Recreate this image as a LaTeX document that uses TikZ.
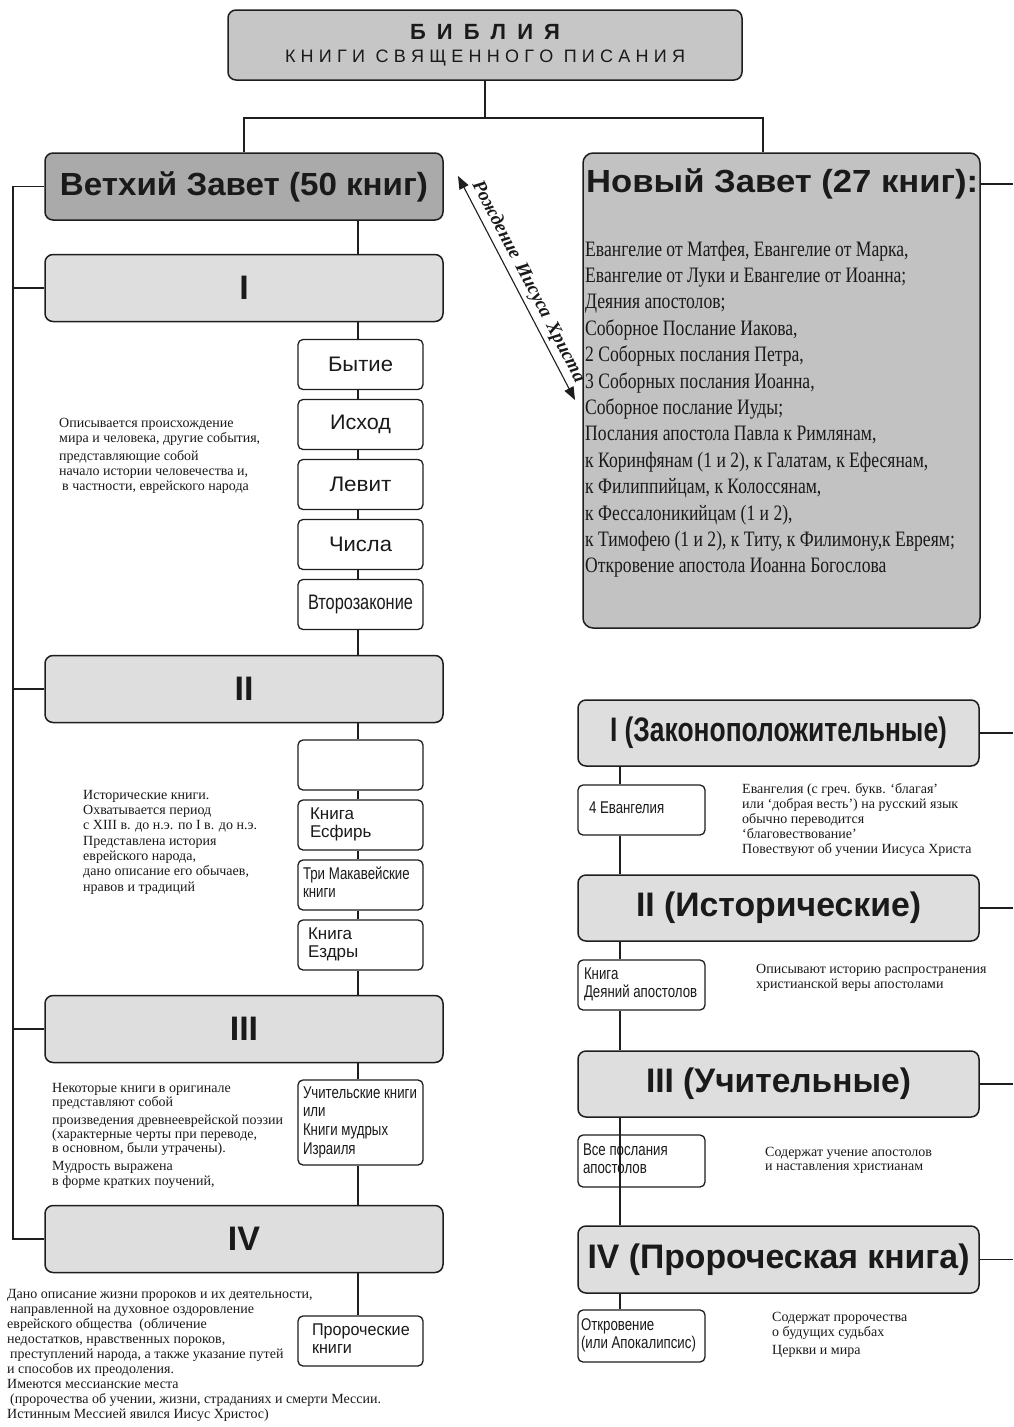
\documentclass[tikz,border=0pt]{standalone}
\usepackage{graphicx}
\usepackage{fontspec}
\setmainfont{Liberation Sans}
\newfontfamily\srf{Liberation Serif}
\usetikzlibrary{arrows.meta}
\newcommand\fitw[2]{\resizebox{#1}{\height}{#2}}
\newcommand\cond[2][0.78]{\scalebox{#1}[1]{\begin{tabular}[t]{@{}l@{}}#2\end{tabular}}}
\newcommand\lft[2]{\makebox[#1][l]{#2}}
\definecolor{lc}{HTML}{1E1E1E}
\definecolor{txt}{HTML}{1A1A1A}
\definecolor{gTop}{HTML}{C6C6C6}
\definecolor{gVZ}{HTML}{AAAAAA}
\definecolor{gL}{HTML}{DEDEDE}
\definecolor{gNZ}{HTML}{C2C2C2}
\tikzset{
 ln/.style={draw=lc, line width=1.3pt},
 bigbox/.style={draw=lc, line width=1.5pt, rounded corners=8pt, fill=gL, minimum width=398pt, minimum height=67pt, inner sep=0pt, text=txt, font=\bfseries\fontsize{34}{38}\selectfont},
 secbox/.style={bigbox, minimum width=401pt, minimum height=66pt},
 book/.style={draw=lc, line width=1.3pt, rounded corners=5pt, fill=white, minimum width=125pt, minimum height=50pt, inner sep=0pt, text=txt, font=\fontsize{17}{18.5}\selectfont},
 rbook/.style={book, minimum width=127pt},
 desc/.style={anchor=base west, inner sep=0pt, align=left, text=txt, font=\srf\fontsize{14}{15}\selectfont},
}
\begin{document}
\begin{tikzpicture}[x=1pt,y=-1pt]
\useasboundingbox (0,0) rectangle (1013,1427);
\fill[white] (0,0) rectangle (1013,1427);

% ---------- top ----------
\node[bigbox, fill=gTop, minimum width=514pt, minimum height=70pt, align=center, font=\fontsize{18}{26}\selectfont] (bib) at (485,45)
 {{\bfseries\fontsize{22}{26}\selectfont\makebox[150pt][s]{Б\hfil И\hfil Б\hfil Л\hfil И\hfil Я}}\\[-3pt]
  \makebox[400pt][s]{К\hfil Н\hfil И\hfil Г\hfil И\hfil\hfil С\hfil В\hfil Я\hfil Щ\hfil Е\hfil Н\hfil Н\hfil О\hfil Г\hfil О\hfil\hfil П\hfil И\hfil С\hfil А\hfil Н\hfil И\hfil Я}};

\node[bigbox, fill=gVZ, font=\bfseries\fontsize{32}{36}\selectfont] (vz) at (244,186.5) {\fitw{368pt}{Ветхий Завет (50 книг)}};

\node[draw=lc, line width=1.5pt, rounded corners=10pt, fill=gNZ, minimum width=397pt, minimum height=475pt, inner sep=0pt] (nz) at (781.5,390.5) {};
\node[anchor=west, inner sep=0pt, text=txt, font=\bfseries\fontsize{32}{36}\selectfont] (nzt) at (586,184) {\fitw{392pt}{Новый Завет (27 книг):}};
\node[anchor=base west, inner sep=0pt, text=txt, font=\srf\fontsize{22}{26.4}\selectfont] (nzl) at (585,256)
 {\cond[0.8]{Евангелие от Матфея, Евангелие от Марка,\\
  Евангелие от Луки и Евангелие от Иоанна;\\
  Деяния апостолов;\\
  Соборное Послание Иакова,\\
  2 Соборных послания Петра,\\
  3 Соборных послания Иоанна,\\
  Соборное послание Иуды;\\
  Послания апостола Павла к Римлянам,\\
  к Коринфянам (1 и 2), к Галатам, к Ефесянам,\\
  к Филиппийцам, к Колоссянам,\\
  к Фессалоникийцам (1 и 2),\\
  к Тимофею (1 и 2), к Титу, к Филимону,к Евреям;\\
  Откровение апостола Иоанна Богослова}};

\coordinate (jt) at (485,118);
\coordinate (nzx) at (763,0);
\coordinate (lx) at (13,0);
\coordinate (vx) at (358,0);
\coordinate (rx) at (620,0);
\coordinate (edge) at (1013,0);
\draw[ln] (bib.south) -- (jt);
\draw[ln] (vz.north) |- (jt);
\draw[ln] (jt) -| (nz.north -| nzx);
\draw[ln] (nz.east |- nzt) -- (edge |- nzt);

% ---------- Old Testament ----------
\node[bigbox] (o1) at (244,288) {I};
\node[bigbox] (o2) at (244,689) {II};
\node[bigbox] (o3) at (244,1029) {III};
\node[bigbox] (o4) at (244,1239) {IV};

\node[book, font=\fontsize{21}{24}\selectfont] (b1) at (360.5,364.5) {\fitw{65pt}{Бытие}};
\node[book, font=\fontsize{21}{24}\selectfont] (b2) at (360.5,424.5) {\fitw{61pt}{Исход}};
\node[book, font=\fontsize{21}{24}\selectfont] (b3) at (360.5,484.5) {\fitw{62pt}{Левит}};
\node[book, font=\fontsize{21}{24}\selectfont] (b4) at (360.5,544.5) {\fitw{63pt}{Числа}};
\node[book, font=\fontsize{21}{24}\selectfont] (b5) at (360.5,604.5) {\fitw{105pt}{Второзаконие}};

\node[book] (c1) at (360.5,765) {};
\node[book] (c2) at (360.5,825) {\lft{101pt}{\cond[1]{Книга\\Есфирь}}};
\node[book] (c3) at (360.5,885) {\lft{115pt}{\cond{Три Макавейские\\книги}}};
\node[book] (c4) at (360.5,945) {\lft{105pt}{\cond[1]{Книга\\Ездры}}};
\node[book, minimum height=85pt, font=\fontsize{17}{18.8}\selectfont] (d1) at (360.5,1122.5) {\lft{115pt}{\cond{Учительские книги\\или\\Книги мудрых\\Израиля}}};
\node[book] (e1) at (360.5,1341) {\lft{97pt}{\cond[0.95]{Пророческие\\книги}}};

\foreach \a/\b in {vz/o1,o1/b1,b1/b2,b2/b3,b3/b4,b4/b5,b5/o2,o2/c1,c1/c2,c2/c3,c3/c4,c4/o3,o3/d1,d1/o4,o4/e1}
  \draw[ln] (\a.south -| vx) -- (\b.north -| vx);

\draw[ln] (vz.west) -- (vz.west -| lx) -- (o4.west -| lx) -- (o4.west);
\foreach \n in {o1,o2,o3} \draw[ln] (\n.west -| lx) -- (\n.west);

\node[desc] (t1) at (59,490) {Описывается происхождение\\мира и человека, другие события,\\[3pt]представляющие собой\\начало истории человечества и,\\\hspace{3pt}в частности, еврейского народа};
\node[desc, font=\srf\fontsize{14}{15.3}\selectfont] (t2) at (83,891) {Исторические книги.\\Охватывается период\\с XIII в. до н.э. по I в. до н.э.\\Представлена история\\еврейского народа,\\дано описание его обычаев,\\нравов и традиций};
\node[desc, font=\srf\fontsize{14}{14.3}\selectfont] (t3) at (52,1185) {Некоторые книги в оригинале\\представляют собой\\[3.5pt]произведения древнееврейской поэзии\\(характерные черты при переводе,\\в основном, были утрачены).\\[3.5pt]Мудрость выражена\\в форме кратких поучений,};
\node[desc] (t4) at (7,1418) {Дано описание жизни пророков и их деятельности,\\\hspace{3pt}направленной на духовное оздоровление\\еврейского общества\ \ (обличение\\недостатков, нравственных пороков,\\\hspace{3pt}преступлений народа, а также указание путей\\и способов их преодоления.\\Имеются мессианские места\\\hspace{3pt}(пророчества об учении, жизни, страданиях и смерти Мессии.\\Истинным Мессией явился Иисус Христос)};

% ---------- arrow ----------
\coordinate (a1) at (458,176);
\coordinate (a2) at (575,400);
\draw[draw=lc, line width=1.1pt, {Triangle[length=13pt,width=10pt]}-{Triangle[length=13pt,width=10pt]}] (a1) -- node[sloped, above=3pt, inner sep=1pt, text=txt, font=\srf\bfseries\itshape\fontsize{19}{21}\selectfont] (birth) {Рождение\hspace{7pt}Иисуса\hspace{7pt}Христа} (a2);

% ---------- New Testament sections ----------
\node[secbox] (s1) at (778.5,733) {\fitw{337pt}{I (Законоположительные)}};
\node[secbox] (s2) at (778.5,908) {\fitw{285pt}{II (Исторические)}};
\node[secbox] (s3) at (778.5,1084) {\fitw{265pt}{III (Учительные)}};
\node[secbox, minimum height=67pt] (s4) at (778.5,1259.5) {\fitw{382pt}{IV (Пророческая книга)}};

\node[rbook] (r1) at (641.5,810) {\lft{105pt}{\cond{4 Евангелия}}};
\node[rbook] (r2) at (641.5,985) {\lft{115pt}{\cond{Книга\\Деяний апостолов}}};
\node[rbook, minimum height=52pt] (r3) at (641.5,1161) {\lft{117pt}{\cond{Все послания\\апостолов}}};
\node[rbook, minimum height=52pt] (r4) at (641.5,1336) {\lft{121pt}{\cond{Откровение\\(или Апокалипсис)}}};

\foreach \a/\b in {s1/r1,r1/s2,s2/r2,r2/s3,s3/s4,s4/r4}
  \draw[ln] (\a.south -| rx) -- (\b.north -| rx);
\foreach \n in {s1,s2,s3,s4} \draw[ln] (\n.east) -- (\n.east -| edge);

\node[desc] (u1) at (742,853) {Евангелия (с греч. букв. ‘благая’\\или ‘добрая весть’) на русский язык\\обычно переводится\\‘благовествование’\\Повествуют об учении Иисуса Христа};
\node[desc] (u2) at (756,988) {Описывают историю распространения\\христианской веры апостолами};
\node[desc, font=\srf\fontsize{14}{14}\selectfont] (u3) at (765,1170) {Содержат учение апостолов\\и наставления христианам};
\node[desc] (u4) at (772,1354) {Содержат пророчества\\о будущих судьбах\\[3pt]Церкви и мира};
\end{tikzpicture}
\end{document}
